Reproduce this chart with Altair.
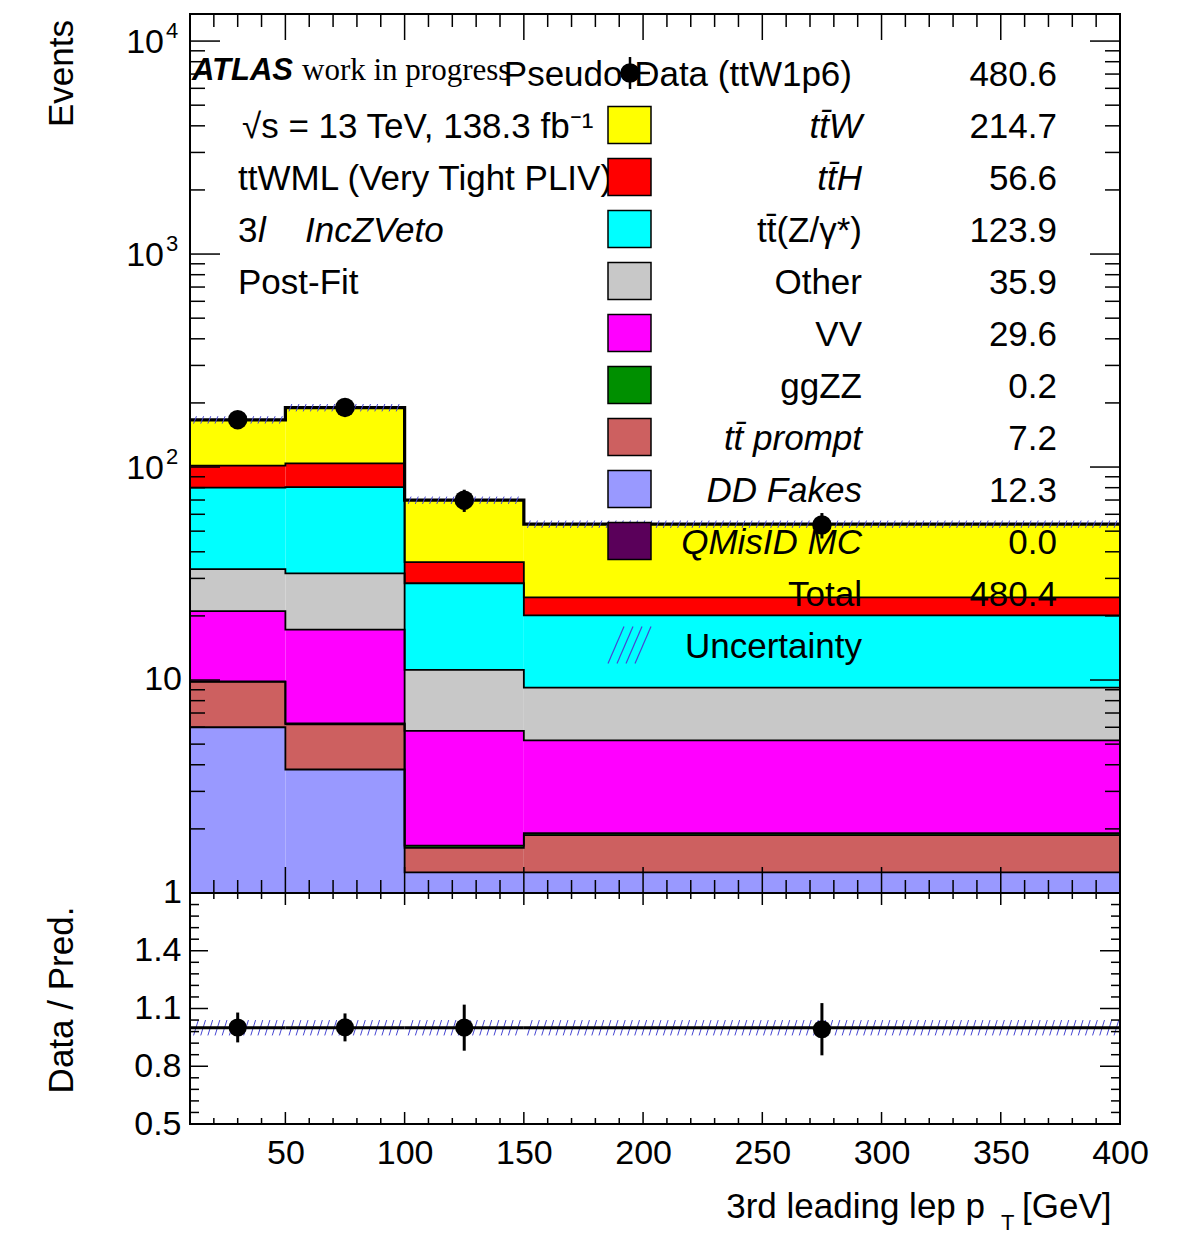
import altair as alt
import numpy as np
import pandas as pd

FONT = "Liberation Sans"
SERIF = "Liberation Serif"

# ---- 3rd leading lepton pT binning [GeV] ----
BIN_EDGES = [10, 50, 100, 150, 400]

# ---- post-fit yields per bin ----
TTW = [65.1, 86.0, 34.1, 29.5]
TTH = [21.5, 23.5, 7.3, 4.3]
TTZ = [46.8, 48.9, 17.3, 10.9]
OTHER = [12.1, 14.4, 5.4, 4.0]
VV = [11.2, 11.0, 4.1, 3.3]
GGZZ = [0.06, 0.06, 0.04, 0.04]
TT_PROMPT = [3.8, 2.4, 0.38, 0.62]
DD_FAKES = [6.0, 3.8, 1.25, 1.25]
QMISID = [0.0, 0.0, 0.0, 0.0]

PSEUDO_DATA = [166.8, 190.4, 69.9, 53.5]
REL_UNC = [0.04, 0.04, 0.04, 0.04]

# legend order, top to bottom (stacking runs the other way)
SAMPLE_NAMES = ["tt\u0304W", "tt\u0304H", "tt\u0304(Z/\u03b3*)", "Other", "VV", "ggZZ",
                "tt\u0304 prompt", "DD Fakes", "QMisID MC"]
SAMPLE_YIELDS = [TTW, TTH, TTZ, OTHER, VV, GGZZ, TT_PROMPT, DD_FAKES, QMISID]
SAMPLE_COLORS = ["#ffff00", "#ff0000", "#00ffff", "#c8c8c8", "#ff00ff", "#008f00",
                 "#cd6060", "#9999ff", "#5a005a"]
SAMPLE_ITALIC = [True, True, False, False, False, False, True, True, True]
DATA_LABEL = "Pseudo-Data (ttW1p6)"

# ---- axis ticks ----
Y_MAJOR = [1, 10, 100, 1000, 10000]
R_MAJOR = [0.5, 0.8, 1.1, 1.4, 1.7]
R_LABELS = [0.5, 0.8, 1.1, 1.4]
X_MAJOR = [50, 100, 150, 200, 250, 300, 350, 400]

# ---- frame geometry ----
W, H_MAIN, H_RATIO = 930, 879, 231
X_MIN, X_MAX = 10, 400
Y_MIN, Y_MAX = 1, 13400
R_MIN, R_MAX = 0.5, 1.7

lo = np.array(BIN_EDGES[:-1], float)
hi = np.array(BIN_EDGES[1:], float)
mid = (lo + hi) / 2

# ---- stacked histogram pieces ----
fill_rows, edge_rows = [], []
base = np.zeros(len(lo))
for name, vals, color in reversed(list(zip(SAMPLE_NAMES, SAMPLE_YIELDS, SAMPLE_COLORS))):
    vals = np.asarray(vals, float)
    top = base + vals
    if vals.sum() > 0:
        for i in range(len(lo)):
            if vals[i] > 0:
                fill_rows.append({"sample": name, "x0": lo[i], "x1": hi[i],
                                  "y0": max(base[i], Y_MIN), "y1": top[i], "color": color})
            edge_rows.append({"sample": name, "seq": 2 * i, "x": lo[i], "y": top[i]})
            edge_rows.append({"sample": name, "seq": 2 * i + 1, "x": hi[i], "y": top[i]})
    base = top
total = base
fill_df = pd.DataFrame(fill_rows)
edge_df = pd.DataFrame(edge_rows)

total_rows = []
for i in range(len(lo)):
    total_rows += [{"seq": 2 * i, "x": lo[i], "y": total[i]},
                   {"seq": 2 * i + 1, "x": hi[i], "y": total[i]}]
total_df = pd.DataFrame(total_rows)

data = np.asarray(PSEUDO_DATA, float)
unc = np.asarray(REL_UNC, float)
data_df = pd.DataFrame({"x": mid, "y": data, "lo": data - np.sqrt(data), "hi": data + np.sqrt(data)})
ratio = data / total
rerr = np.sqrt(data) / total
ratio_df = pd.DataFrame({"x": mid, "y": ratio, "lo": ratio - rerr, "hi": ratio + rerr})
unity_df = pd.DataFrame({"x0": lo, "x1": hi, "y": total / total})


def hatch(lower, upper, step, slant):
    rows = []
    for i in range(len(lo)):
        for x in np.arange(lo[i] + step / 2, hi[i] - slant, step):
            rows.append({"xa": x, "xb": x + slant, "ya": lower[i], "yb": upper[i]})
    return pd.DataFrame(rows)


hatch_main_df = hatch(total * (1 - unc), total * (1 + unc), 3.0, 1.2)
hatch_ratio_df = hatch(1 - unc, 1 + unc, 3.0, 2.0)

# y labels of the log axis: "1", "10", then 10 with a raised exponent
exps = [int(round(np.log10(v))) for v in Y_MAJOR]
ylab_plain = pd.DataFrame({"v": [v for v, e in zip(Y_MAJOR, exps) if e < 2],
                           "t": [str(v) for v, e in zip(Y_MAJOR, exps) if e < 2]})
ylab_pow = pd.DataFrame({"v": [v for v, e in zip(Y_MAJOR, exps) if e >= 2],
                         "e": [str(e) for e in exps if e >= 2]})

# ---- scales and axes ----
X_SCALE = alt.Scale(domain=[X_MIN, X_MAX], nice=False, zero=False)
Y_SCALE = alt.Scale(type="log", domain=[Y_MIN, Y_MAX], nice=False)
R_SCALE = alt.Scale(domain=[R_MIN, R_MAX], nice=False, zero=False)

R_AXIS = alt.Axis(values=R_LABELS, format=".1f", tickSize=0, domain=False, grid=False,
                  title=None, labelFontSize=34, labelPadding=9, labelOverlap=False,
                  labelFlush=False)
X_AXIS_RATIO = alt.Axis(values=X_MAJOR, tickSize=0, domain=False, grid=False, title=None,
                        labelFontSize=34, labelPadding=12, labelOverlap=False, labelFlush=False)

XM = dict(scale=X_SCALE, axis=None)
YM = dict(scale=Y_SCALE, axis=None)
XR = dict(scale=X_SCALE, axis=X_AXIS_RATIO)
YR = dict(scale=R_SCALE, axis=R_AXIS)

ONE = pd.DataFrame({"n": [0]})


def text_at(txt, x, y, size=35, align="left", baseline="alphabetic", font=FONT, **kw):
    return alt.Chart(ONE).mark_text(text=txt, fontSize=size, font=font, align=align,
                                    baseline=baseline, color="black", **kw).encode(
        x=alt.value(x), y=alt.value(y))


def vticks(values, xdef, ya, yb):
    return alt.Chart(pd.DataFrame({"v": values})).mark_rule(color="black", strokeWidth=1.5).encode(
        x=alt.X("v:Q", **xdef), y=alt.value(ya), y2=alt.value(yb))


def hticks(values, ydef, xa, xb):
    return alt.Chart(pd.DataFrame({"v": values})).mark_rule(color="black", strokeWidth=1.5).encode(
        y=alt.Y("v:Q", **ydef), x=alt.value(xa), x2=alt.value(xb))


def frame(h):
    return alt.Chart(ONE).mark_rect(fillOpacity=0, stroke="black", strokeWidth=2).encode(
        x=alt.value(0), x2=alt.value(W), y=alt.value(0), y2=alt.value(h))


x_minor = [v for v in range(X_MIN, X_MAX + 1, 10) if v % 50 != 0]
y_minor = [m * 10 ** k for k in range(0, 5) for m in range(2, 10) if m * 10 ** k <= Y_MAX]
r_minor = [round(R_MIN + 0.06 * i, 2) for i in range(21)]
r_minor = [v for v in r_minor if all(abs(v - m) > 1e-6 for m in R_MAJOR)]

# ---------------- main panel ----------------
extent = alt.Chart(ONE).mark_rect(opacity=0).encode(
    x=alt.value(-190), x2=alt.value(0), y=alt.value(-14), y2=alt.value(0))

fills = alt.Chart(fill_df).mark_rect(clip=True).encode(
    x=alt.X("x0:Q", **XM), x2="x1:Q", y=alt.Y("y0:Q", **YM), y2="y1:Q",
    fill=alt.Fill("color:N", scale=None))

edges = alt.Chart(edge_df).mark_line(color="black", strokeWidth=1.8, clip=True).encode(
    x=alt.X("x:Q", **XM), y=alt.Y("y:Q", **YM), detail="sample:N", order="seq:Q")

total_line = alt.Chart(total_df).mark_line(color="black", strokeWidth=3.2, clip=True).encode(
    x=alt.X("x:Q", **XM), y=alt.Y("y:Q", **YM), order="seq:Q")

hatch_main = alt.Chart(hatch_main_df).mark_rule(color="#4646d2", strokeWidth=1, clip=True).encode(
    x=alt.X("xa:Q", **XM), x2="xb:Q", y=alt.Y("ya:Q", **YM), y2="yb:Q")

err_main = alt.Chart(data_df).mark_rule(color="black", strokeWidth=3).encode(
    x=alt.X("x:Q", **XM), y=alt.Y("lo:Q", **YM), y2="hi:Q")
pts_main = alt.Chart(data_df).mark_circle(size=380, color="black", opacity=1).encode(
    x=alt.X("x:Q", **XM), y=alt.Y("y:Q", **YM))

ticks_main = [
    vticks(X_MAJOR, XM, H_MAIN, H_MAIN - 26), vticks(x_minor, XM, H_MAIN, H_MAIN - 13),
    vticks(X_MAJOR, XM, 0, 26), vticks(x_minor, XM, 0, 13),
    hticks(Y_MAJOR, YM, 0, 30), hticks(y_minor, YM, 0, 15),
    hticks(Y_MAJOR, YM, W, W - 30), hticks(y_minor, YM, W, W - 15),
]

y_labels = [
    alt.Chart(ylab_plain).mark_text(align="right", baseline="middle", fontSize=34, font=FONT,
                                    color="black").encode(
        y=alt.Y("v:Q", **YM), x=alt.value(-8), text="t:N"),
    alt.Chart(ylab_pow).mark_text(text="10", align="right", baseline="middle", fontSize=34,
                                  font=FONT, color="black", dy=2).encode(
        y=alt.Y("v:Q", **YM), x=alt.value(-26)),
    alt.Chart(ylab_pow).mark_text(align="left", baseline="middle", fontSize=22, font=FONT,
                                  color="black", dy=-10).encode(
        y=alt.Y("v:Q", **YM), x=alt.value(-24), text="e:N"),
]

# legend layout (pixels from the top-left of the plot frame)
ROW_BASE, ROW_STEP = 71.5, 52.0
SW_C0, SW_HALF = 59.0, 18.5
SW_X0, SW_X1 = 418, 461
LABEL_X, VALUE_X = 672, 867

sample_leg = pd.DataFrame({
    "row": list(range(1, len(SAMPLE_NAMES) + 1)),
    "label": SAMPLE_NAMES,
    "value": [f"{sum(v):.1f}" for v in SAMPLE_YIELDS],
    "color": SAMPLE_COLORS,
    "italic": SAMPLE_ITALIC,
})
extra_leg = pd.DataFrame({
    "row": [0, len(SAMPLE_NAMES) + 1, len(SAMPLE_NAMES) + 2],
    "label": [DATA_LABEL, "Total", "Uncertainty"],
    "value": [f"{data.sum():.1f}", f"{total.sum():.1f}", ""],
})


def legend_text(df, field, x, italic=False):
    return (alt.Chart(df)
            .transform_calculate(py=f"{ROW_BASE} + {ROW_STEP} * datum.row")
            .mark_text(align="right", baseline="alphabetic", fontSize=35, font=FONT,
                       fontStyle="italic" if italic else "normal", color="black")
            .encode(x=alt.value(x), y=alt.Y("py:Q", scale=None, axis=None), text=f"{field}:N"))


swatches = (alt.Chart(sample_leg)
            .transform_calculate(top=f"{SW_C0} + {ROW_STEP} * datum.row - {SW_HALF}",
                                 bot=f"{SW_C0} + {ROW_STEP} * datum.row + {SW_HALF}")
            .mark_rect(stroke="black", strokeWidth=1.5)
            .encode(x=alt.value(SW_X0), x2=alt.value(SW_X1),
                    y=alt.Y("top:Q", scale=None, axis=None), y2="bot:Q",
                    fill=alt.Fill("color:N", scale=None)))

unc_row = len(SAMPLE_NAMES) + 2
unc_c = SW_C0 + ROW_STEP * unc_row
unc_swatch = [
    alt.Chart(ONE).mark_rule(color="#4646d2", strokeWidth=1.2).encode(
        x=alt.value(xa), x2=alt.value(xa + 16),
        y=alt.value(unc_c + SW_HALF), y2=alt.value(unc_c - SW_HALF))
    for xa in (418, 427, 436, 445)
]

data_marker = [
    alt.Chart(ONE).mark_rule(color="black", strokeWidth=2.5).encode(
        x=alt.value(428), x2=alt.value(460), y=alt.value(SW_C0)),
    alt.Chart(ONE).mark_rule(color="black", strokeWidth=2.5).encode(
        x=alt.value(440), y=alt.value(SW_C0 - 16), y2=alt.value(SW_C0 + 16)),
    alt.Chart(ONE).mark_circle(size=380, color="black", opacity=1).encode(
        x=alt.value(440), y=alt.value(SW_C0)),
]

annotations = [
    text_at("ATLAS", 2, 66, size=31, fontWeight="bold", fontStyle="italic"),
    text_at("work in progress", 112, 66, size=31, font=SERIF),
    text_at("\u221as = 13 TeV, 138.3 fb\u207b\u00b9", 52, ROW_BASE + ROW_STEP * 1),
    text_at("ttWML (Very Tight PLIV)", 48, ROW_BASE + ROW_STEP * 2),
    text_at("3", 48, ROW_BASE + ROW_STEP * 3),
    text_at("l", 68, ROW_BASE + ROW_STEP * 3, fontStyle="italic"),
    text_at("IncZVeto", 115, ROW_BASE + ROW_STEP * 3, fontStyle="italic"),
    text_at("Post-Fit", 48, ROW_BASE + ROW_STEP * 4),
    text_at("Events", -128, 6, align="right", baseline="middle", angle=270),
]

legend_layers = [
    legend_text(extra_leg[extra_leg.row == 0], "label", LABEL_X - 10),
    legend_text(extra_leg[extra_leg.row > 0], "label", LABEL_X),
    legend_text(sample_leg[sample_leg.italic], "label", LABEL_X, italic=True),
    legend_text(sample_leg[~sample_leg.italic], "label", LABEL_X),
    legend_text(sample_leg, "value", VALUE_X),
    legend_text(extra_leg, "value", VALUE_X),
    swatches,
    *unc_swatch,
    *data_marker,
]

main = alt.layer(
    extent, fills, edges, total_line, hatch_main, frame(H_MAIN), *ticks_main, *y_labels,
    err_main, pts_main, *annotations, *legend_layers,
).properties(width=W, height=H_MAIN)

# ---------------- ratio panel ----------------
hatch_ratio = alt.Chart(hatch_ratio_df).mark_rule(color="#4646d2", strokeWidth=1, clip=True).encode(
    x=alt.X("xa:Q", **XR), x2="xb:Q", y=alt.Y("ya:Q", **YR), y2="yb:Q")
unity = alt.Chart(unity_df).mark_rule(color="black", strokeWidth=3).encode(
    x=alt.X("x0:Q", **XR), x2="x1:Q", y=alt.Y("y:Q", **YR))
err_ratio = alt.Chart(ratio_df).mark_rule(color="black", strokeWidth=3).encode(
    x=alt.X("x:Q", **XR), y=alt.Y("lo:Q", **YR), y2="hi:Q")
pts_ratio = alt.Chart(ratio_df).mark_circle(size=330, color="black", opacity=1).encode(
    x=alt.X("x:Q", **XR), y=alt.Y("y:Q", **YR))

ticks_ratio = [
    vticks(X_MAJOR, XR, H_RATIO, H_RATIO - 12), vticks(x_minor, XR, H_RATIO, H_RATIO - 6),
    vticks(X_MAJOR, XR, 0, 12), vticks(x_minor, XR, 0, 6),
    hticks(R_MAJOR, YR, 0, 18), hticks(r_minor, YR, 0, 9),
    hticks(R_MAJOR, YR, W, W - 20), hticks(r_minor, YR, W, W - 9),
]

ratio_titles = [
    text_at("Data / Pred.", -128, 107, align="center", baseline="middle", angle=270),
    text_at("3rd leading lep p", 795, 325, align="right"),
    text_at("T", 811, 337, size=22),
    text_at("[GeV]", 832, 325),
]

ratio_panel = alt.layer(
    hatch_ratio, unity, frame(H_RATIO), *ticks_ratio, err_ratio, pts_ratio, *ratio_titles,
).properties(width=W, height=H_RATIO)

chart = (
    alt.vconcat(main, ratio_panel, spacing=0, bounds="flush")
    .properties(padding={"left": 0, "top": 0, "right": 0, "bottom": 0})
    .configure_view(strokeWidth=0)
    .configure_axis(labelFont=FONT, labelColor="black")
)

chart.save("out.html", embed_options={"renderer": "svg", "actions": False})
